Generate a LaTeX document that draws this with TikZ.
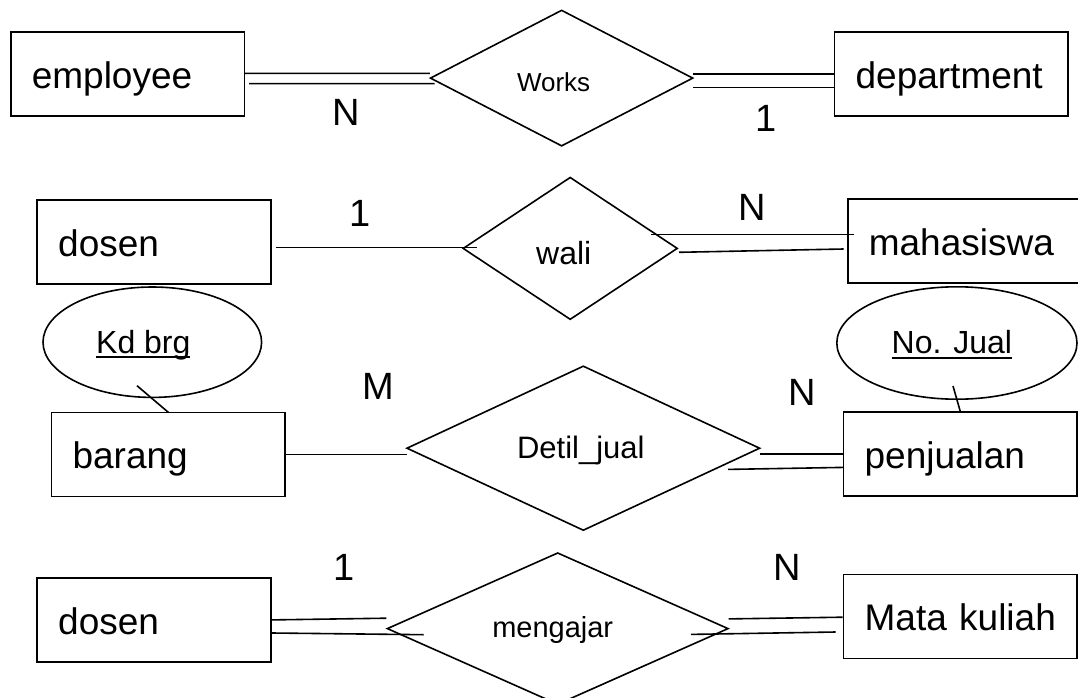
\documentclass[tikz,border=0pt]{standalone}
\usepackage{fontspec}
\setmainfont{Liberation Sans}
\usetikzlibrary{shapes.geometric,calc}
\newcommand{\myul}[1]{\leavevmode\setbox0\hbox{#1}\rlap{\raisebox{-5.2pt}{\rule{\wd0}{2.2pt}}}\box0}
\tikzset{
  entity/.style={draw, rectangle, line width=1.6pt, outer sep=0pt, inner xsep=21pt, inner ysep=0pt,
    minimum width=233.6pt, text width=191.6pt, align=left, minimum height=84pt,
    text height=29pt, text depth=0pt,
    font=\fontsize{37}{44}\selectfont},
  rel/.style={draw, diamond, line width=1.6pt, outer sep=0pt, inner sep=0pt, text depth=0pt},
  attr/.style={draw, ellipse, line width=1.6pt, outer sep=0pt, inner sep=0pt, text depth=0pt,
    font=\fontsize{32}{38}\selectfont},
  card/.style={inner sep=0pt, font=\fontsize{38}{44}\selectfont},
  conn/.style={line width=1.6pt},
}
\begin{document}
\begin{tikzpicture}[x=1pt,y=-1pt]
\useasboundingbox (0,0) rectangle (1078,698);
% row 1
\node[entity] (employee) at (127.6,74.2) {employee};
\node[rel, minimum width=262.2pt, minimum height=135.5pt, text height=26.4pt, font=\fontsize{26}{31}\selectfont] (works) at (561.6,78.1) {\hspace*{-16pt}Works};
\node[entity] (department) at (951.4,74.3) {department};
\draw[conn] ($(employee.east)+(0,-0.8)$) -- ($(works.west)+(-0.7,-4.7)$);
\draw[conn] ($(employee.east)+(4.8,9.5)$) -- ($(works.west)+(4.1,5.6)$);
\draw[conn] ($(works.east)+(0,-4.3)$) -- ($(department.west)+(0,-0.5)$);
\draw[conn] ($(works.east)+(0.7,9.4)$) -- ($(department.west)+(0,13.2)$);
\node[card] (n1) at (346,112) {N};
\node[card] (o1) at (766.5,118.4) {1};
% row 2
\node[entity] (dosenA) at (154,242) {dosen};
\node[rel, minimum width=214pt, minimum height=141.8pt, text height=32pt, font=\fontsize{32}{38}\selectfont] (wali) at (570.2,248.4) {\hspace*{-13pt}wali};
\node[entity] (mahasiswa) at (964.6,241.2) {mahasiswa};
\draw[conn] ($(dosenA.east)+(4.8,5.5)$) -- ($(wali.west)+(13.8,-0.9)$);
\draw[conn] ($(wali.east)+(-26.7,-13.9)$) -- ($(mahasiswa.west)+(6.2,-6.7)$);
\draw[conn] ($(wali.east)+(1.8,3.9)$) -- ($(mahasiswa.west)+(-4.1,7.8)$);
\node[card] (o2) at (360,213) {1};
\node[card] (n2) at (752.7,207) {N};
% row 3
\node[attr, minimum width=218.6pt, minimum height=110.4pt, text height=21.6pt] (kdbrg) at (152.3,342.2) {\hspace*{-18pt}\myul{Kd brg}};
\node[entity] (barang) at (168.4,454.4) {barang};
\node[rel, minimum width=352.6pt, minimum height=164pt, text height=19.8pt, font=\fontsize{31}{37}\selectfont] (detil) at (583.3,448.2) {\hspace*{-5pt}Detil\_jual};
\node[entity] (penjualan) at (960.4,453.9) {penjualan};
\node[attr, minimum width=240.2pt, minimum height=112.4pt, text height=21pt] (nojual) at (956.9,343) {\hspace*{-10pt}\myul{No. Jual}};
\draw[conn] ($(kdbrg.south)+(-15.3,-11.7)$) -- (barang.north);
\draw[conn] ($(nojual.south)+(-3.9,-13.2)$) -- (penjualan.north);
\draw[conn] ($(barang.east)+(0,0.2)$) -- ($(detil.west)+(0,6.4)$);
\draw[conn] ($(detil.east)+(0,5.5)$) -- ($(penjualan.west)+(0,-0.2)$);
\draw[conn] ($(detil.east)+(-31.6,21.2)$) -- ($(penjualan.west)+(0,13.5)$);
\node[card] (m3) at (378,386.4) {M};
\node[card] (n3) at (802.5,392.2) {N};
% row 4
\node[entity] (dosenB) at (154,620) {dosen};
\node[rel, minimum width=340.6pt, minimum height=151.2pt, text height=18.4pt, font=\fontsize{29}{35}\selectfont] (mengajar) at (557.7,628.6) {\hspace*{-10pt}mengajar};
\node[entity] (matakuliah) at (960.4,616.4) {Mata kuliah};
\draw[conn] ($(dosenB.east)+(1.3,-0.1)$) -- ($(mengajar.west)+(-1,-10.4)$);
\draw[conn] ($(dosenB.east)+(1.3,13)$) -- ($(mengajar.west)+(36.2,6.1)$);
\draw[conn] ($(mengajar.east)+(0.7,-9.7)$) -- ($(matakuliah.west)+(-1.1,0.8)$);
\draw[conn] ($(mengajar.east)+(-37,5.8)$) -- ($(matakuliah.west)+(-7.9,15.6)$);
\node[card] (o4) at (344.4,567.5) {1};
\node[card] (n4) at (787.7,567.4) {N};
\end{tikzpicture}
\end{document}
